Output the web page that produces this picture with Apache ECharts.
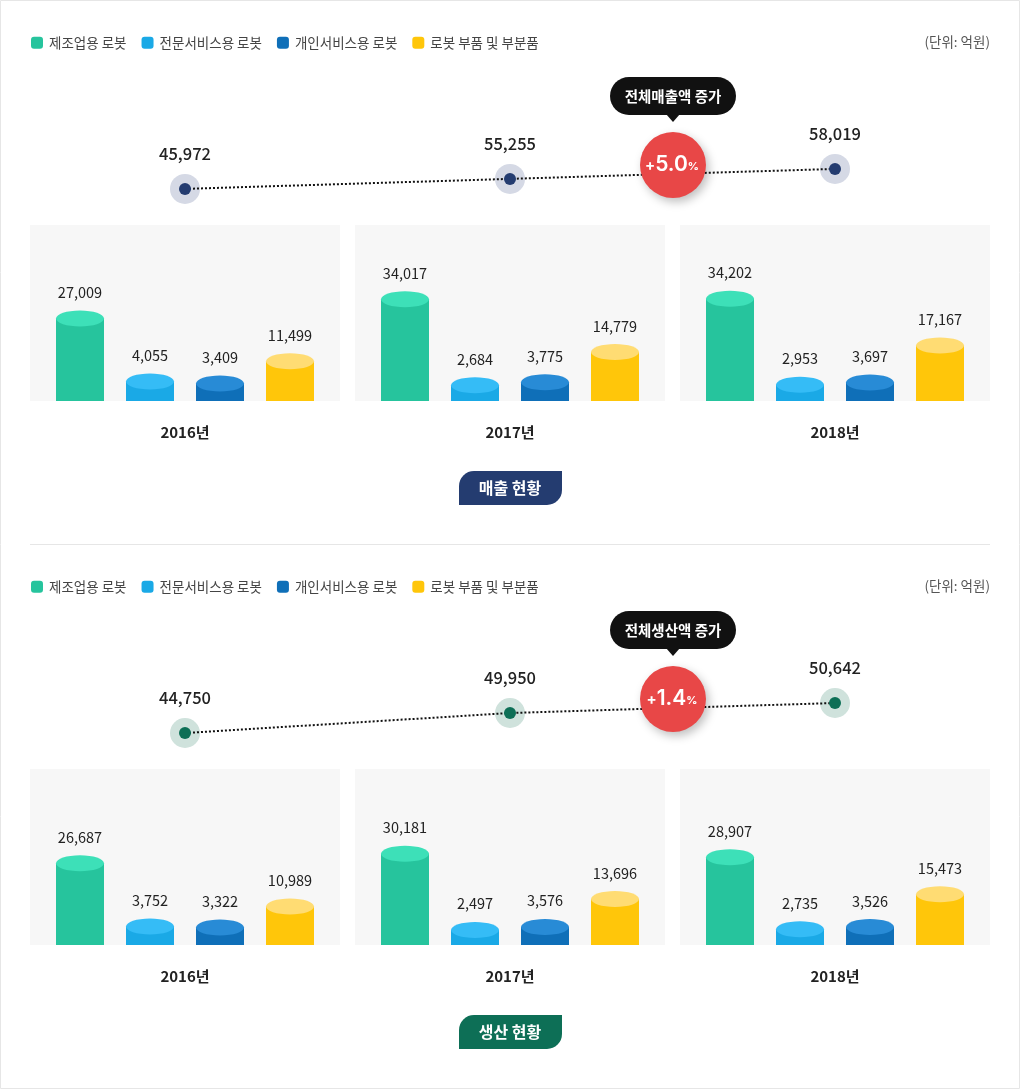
<!DOCTYPE html>
<html>
<head>
<meta charset="utf-8">
<style>html,body{margin:0;padding:0;background:#fff}#chart{width:1020px;height:1089px}</style>
<script src="https://cdn.jsdelivr.net/npm/echarts@6/dist/echarts.min.js"></script>
</head>
<body>
<div id="chart"></div>
<script>
var years = ['2016년', '2017년', '2018년'];
var robotTypes = ['제조업용 로봇', '전문서비스용 로봇', '개인서비스용 로봇', '로봇 부품 및 부분품'];

var salesTotal = [45972, 55255, 58019];
var sales2016 = [27009, 4055, 3409, 11499];
var sales2017 = [34017, 2684, 3775, 14779];
var sales2018 = [34202, 2953, 3697, 17167];

var prodTotal = [44750, 49950, 50642];
var prod2016 = [26687, 3752, 3322, 10989];
var prod2017 = [30181, 2497, 3576, 13696];
var prod2018 = [28907, 2735, 3526, 15473];

var sideColors = ['#26c49d', '#1aa9e6', '#0f6fb8', '#ffc60a'];
var capColors = ['#3de0b8', '#35bcf6', '#288bd6', '#ffdc73'];
var font = '"Noto Sans CJK KR"';

// the total lines in the picture are not to scale, so their axes carry a break
var sections = [
  {top: 0, noteTop: 0, total: salesTotal, bars: [sales2016, sales2017, sales2018],
   yMin: 40400, yMax: 69075, yBreak: {start: 46000, end: 55000, gap: 2488},
   dot: '#243c70', halo: '#d5d9e5', badge: '#243c70', title: '매출 현황', pill: '전체매출액 증가', rate: '5.0'},
  {top: 544, noteTop: 534, total: prodTotal, bars: [prod2016, prod2017, prod2018],
   yMin: 43366, yMax: 52718, yBreak: {start: 45000, end: 49800, gap: 983},
   dot: '#0d6f56', halo: '#cfe2dc', badge: '#0d6f56', title: '생산 현황', pill: '전체생산액 증가', rate: '1.4'}
];

var barMin = -3000, barMax = 61000;
var grids = [], xAxes = [], yAxes = [], series = [], legends = [], graphics = [];

function renderBar(typeIdx) {
  return function (params, api) {
    var top = api.coord([api.value(0), api.value(1)]);
    var base = api.coord([api.value(0), barMin]);
    return {
      type: 'group',
      children: [
        {type: 'rect', shape: {x: top[0] - 24, y: top[1], width: 48, height: base[1] - top[1]}, style: {fill: sideColors[typeIdx]}},
        {type: 'ellipse', shape: {cx: top[0], cy: top[1], rx: 24, ry: 8}, style: {fill: capColors[typeIdx]}},
        {type: 'text', style: {x: top[0], y: top[1] - 26, text: api.value(1).toLocaleString('en-US'), fill: '#222', font: '14.5px ' + font, align: 'center', verticalAlign: 'middle'}}
      ]
    };
  };
}

sections.forEach(function (sec) {
  var t = sec.top, n = sec.noteTop;

  legends.push({
    left: 26, top: t + 31, itemWidth: 12, itemHeight: 12, itemGap: 15, selectedMode: false,
    textStyle: {fontFamily: font, fontSize: 13.5, color: '#444', padding: [0, 0, 0, 1]},
    data: robotTypes.map(function (name, i) {
      return {name: name, icon: 'roundRect', itemStyle: {color: sideColors[i]}};
    })
  });

  // total line
  var lineIdx = grids.length;
  grids.push({left: 22.5, width: 975, top: t + 129, height: 80});
  xAxes.push({gridIndex: lineIdx, type: 'category', data: years, show: false});
  yAxes.push({gridIndex: lineIdx, type: 'value', min: sec.yMin, max: sec.yMax, show: false, breaks: [sec.yBreak], breakArea: {show: false}});
  series.push({
    type: 'scatter', xAxisIndex: lineIdx, yAxisIndex: lineIdx, data: sec.total, symbolSize: 30, z: 2,
    itemStyle: {color: sec.halo, opacity: 1}, silent: true
  });
  series.push({
    type: 'line', xAxisIndex: lineIdx, yAxisIndex: lineIdx, data: sec.total, symbol: 'circle', symbolSize: 12, z: 3,
    lineStyle: {color: '#111', width: 2, type: [2, 2]}, itemStyle: {color: sec.dot}, silent: true,
    label: {show: true, position: 'top', distance: 21, fontFamily: font, fontSize: 16.5, fontWeight: 500, color: '#222',
      formatter: function (p) { return p.value.toLocaleString('en-US'); }}
  });

  // year panels
  sec.bars.forEach(function (values, y) {
    var idx = grids.length;
    grids.push({left: 45 + 325 * y, width: 280, top: t + 225, height: 176});
    graphics.push({type: 'rect', shape: {x: 30 + 325 * y, y: t + 225, width: 310, height: 176}, style: {fill: '#f7f7f7'}, z: -1});
    xAxes.push({
      gridIndex: idx, type: 'category', data: robotTypes,
      axisLine: {show: false}, axisTick: {show: false}, axisLabel: {show: false}, splitLine: {show: false},
      name: years[y], nameLocation: 'middle', nameGap: 24,
      nameTextStyle: {fontFamily: font, fontSize: 15, fontWeight: 700, color: '#222'}
    });
    yAxes.push({gridIndex: idx, type: 'value', min: barMin, max: barMax, show: false});
    robotTypes.forEach(function (name, i) {
      series.push({
        type: 'custom', name: name, xAxisIndex: idx, yAxisIndex: idx, z: 3, silent: true,
        itemStyle: {color: sideColors[i]},
        encode: {x: 0, y: 1},
        data: [[i, values[i]]],
        renderItem: renderBar(i)
      });
    });
  });

  // annotations
  graphics.push(
    {type: 'text', right: 30, top: t + 35, style: {text: '(단위: 억원)', font: '13.5px ' + font, fill: '#555'}},
    {type: 'rect', shape: {x: 610, y: n + 77, width: 126, height: 38, r: 19}, style: {fill: '#111'}, z: 10},
    {type: 'polygon', shape: {points: [[666, n + 114], [680, n + 114], [673, n + 122]]}, style: {fill: '#111'}, z: 10},
    {type: 'text', x: 673, y: n + 96, style: {text: sec.pill, font: '700 14.5px ' + font, fill: '#fff', align: 'center', verticalAlign: 'middle'}, z: 11},
    {type: 'circle', shape: {cx: 673, cy: n + 165, r: 33}, style: {fill: '#e84747', shadowBlur: 10, shadowColor: 'rgba(0,0,0,0.25)', shadowOffsetX: 3, shadowOffsetY: 4}, z: 10},
    {type: 'text', x: 672, y: n + 165, z: 11, style: {
      text: '{p|+}{a|' + sec.rate + '}{b|%}', align: 'center', verticalAlign: 'middle',
      rich: {
        p: {font: 'bold 15px Inter', fill: '#fff', color: '#fff'},
        a: {font: '600 21px Inter', fill: '#fff', color: '#fff'},
        b: {font: 'bold 11px Inter', fill: '#fff', color: '#fff', padding: [4, 0, 0, 0]}
      }
    }},
    {type: 'rect', shape: {x: 459, y: t + 471, width: 103, height: 34, r: [15, 0, 15, 0]}, style: {fill: sec.badge}},
    {type: 'text', x: 510, y: t + 488, style: {text: sec.title, font: '700 16px ' + font, fill: '#fff', align: 'center', verticalAlign: 'middle'}}
  );
});

graphics.push(
  {type: 'rect', shape: {x: 0.5, y: 0.5, width: 1019, height: 1088}, style: {fill: null, stroke: '#e6e6e6', lineWidth: 1}},
  {type: 'line', shape: {x1: 30, y1: 544.5, x2: 990, y2: 544.5}, style: {stroke: '#e6e6e6', lineWidth: 1}}
);

var chart = echarts.init(document.getElementById('chart'));
chart.setOption({
  animation: false,
  backgroundColor: '#fff',
  legend: legends,
  grid: grids,
  xAxis: xAxes,
  yAxis: yAxes,
  series: series,
  graphic: graphics
});
</script>
</body>
</html>
